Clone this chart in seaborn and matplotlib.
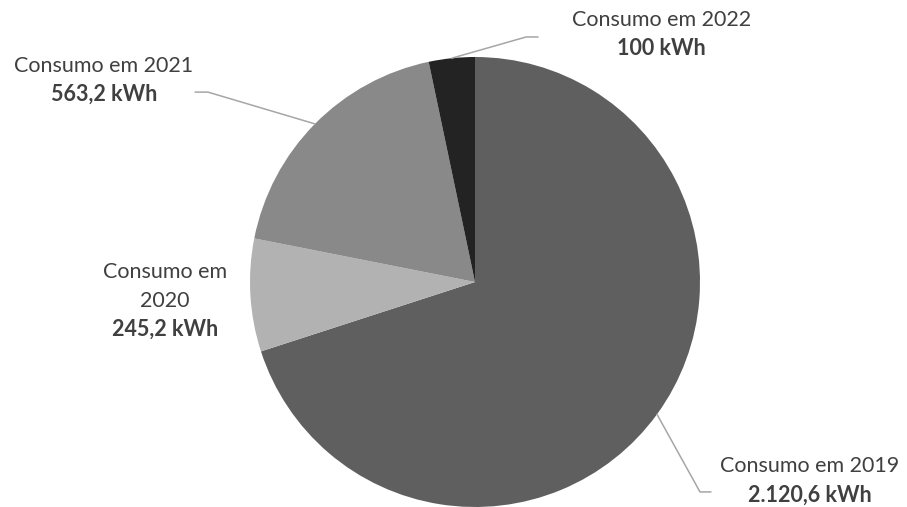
import numpy as np
import matplotlib
matplotlib.use("Agg")
import matplotlib.pyplot as plt
import seaborn as sns

# Consumo anual de energia
anos = ["2019", "2020", "2021", "2022"]
consumo_kwh = [2120.6, 245.2, 563.2, 100.0]
valores_txt = ["2.120,6 kWh", "245,2 kWh", "563,2 kWh", "100 kWh"]
cores = ["#5f5f5f", "#b2b2b2", "#898989", "#232323"]

sns.set_theme(style="white")
plt.rcParams["font.family"] = ["Lato", "DejaVu Sans"]

TXT = "#404040"
LINHA = "#a6a6a6"

fig = plt.figure(figsize=(9.07, 5.07), dpi=100)
ax = fig.add_axes([250 / 907, 0, 450 / 907, 450 / 507])

wedges, _ = ax.pie(consumo_kwh, colors=sns.color_palette(cores), startangle=90,
                   counterclock=False, radius=1,
                   wedgeprops=dict(linewidth=0, edgecolor="none"))
ax.set_xlim(-1, 1)
ax.set_ylim(-1, 1)
ax.set_aspect("equal")
ax.axis("off")

# posicao do rotulo: (cotovelo, fim da linha, centro do texto, linhas)
rotulos = {
    "2019": ((1.0, -0.933), (1.049, -0.933), (1.489, -0.82), ["Consumo em 2019"]),
    "2020": (None, None, (-1.378, 0.044), ["Consumo em", "2020"]),
    "2021": ((-1.187, 0.844), (-1.244, 0.844), (-1.649, 0.962), ["Consumo em 2021"]),
    "2022": ((0.227, 1.089), (0.28, 1.089), (0.827, 1.164), ["Consumo em 2022"]),
}

passo = 0.128
for w, ano, val in zip(wedges, anos, valores_txt):
    cot, fim, (tx, ty), linhas = rotulos[ano]
    if cot is not None:
        ang = np.deg2rad((w.theta1 + w.theta2) / 2)
        x0, y0 = w.r * np.cos(ang), w.r * np.sin(ang)
        ax.plot([x0, cot[0], fim[0]], [y0, cot[1], fim[1]], color=LINHA,
                lw=1.1, clip_on=False)
    y = ty
    for ln in linhas:
        ax.text(tx, y, ln, ha="center", va="center", fontsize=15.5, color=TXT)
        y -= passo
    ax.text(tx, y, val, ha="center", va="center", fontsize=15.5,
            fontweight="bold", color=TXT)

fig.savefig("out.png", dpi=100)
